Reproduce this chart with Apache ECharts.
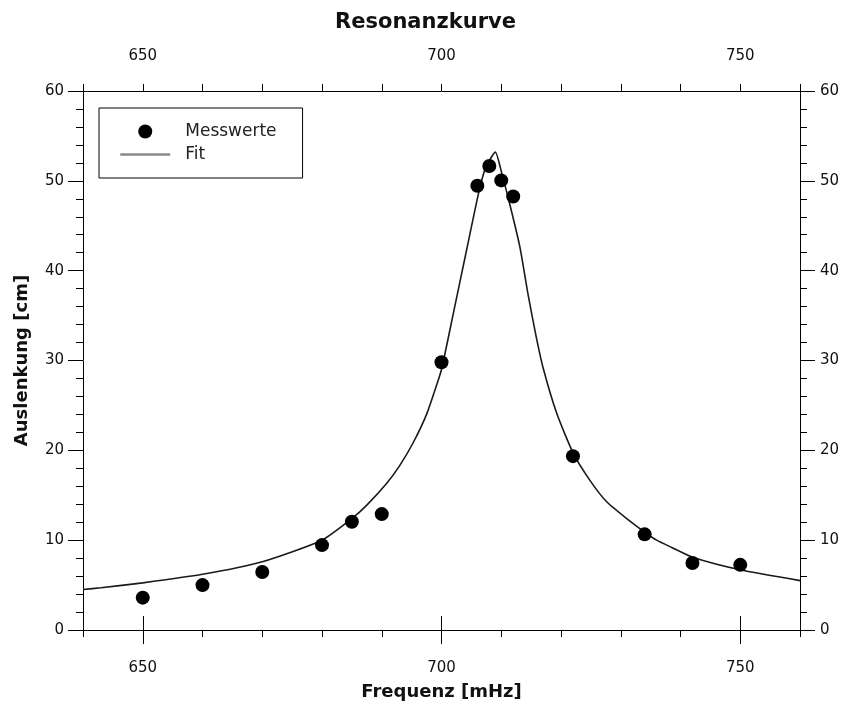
<!DOCTYPE html>
<html>
<head>
<meta charset="utf-8">
<script src="https://cdn.jsdelivr.net/npm/echarts@6/dist/echarts.min.js"></script>
<style>
html,body{margin:0;padding:0;background:#fff;}
#chart{width:851px;height:706px;}
</style>
</head>
<body>
<div id="chart"></div>
<script>
// Measured points
var measFreq = [650, 660, 670, 680, 685, 690, 700, 706, 708, 710, 712, 722, 734, 742, 750];
var measAmp  = [3.6, 5.0, 6.45, 9.45, 12.05, 12.9, 29.8, 49.45, 51.65, 50.05, 48.25, 19.35, 10.65, 7.45, 7.25];

// Fit curve
var fitFreq = [640, 643, 650, 660, 670, 680, 685, 687.5, 690.8, 693, 695.3, 697.5, 699.2, 700, 702, 704.2, 706.2, 707.3, 709, 710.1, 711.5, 713.1, 714.5, 715.8, 717, 719.3, 722.1, 724.9, 727.6, 731, 734.2, 736, 738.8, 742, 750, 760];
var fitAmp  = [4.5, 4.7, 5.25, 6.2, 7.6, 10.0, 12.4, 13.9, 16.3, 18.3, 20.9, 24.0, 27.3, 29.0, 35.3, 42.3, 48.6, 51.3, 53.2, 50.8, 47.2, 42.7, 37.3, 32.8, 29.2, 24.1, 19.6, 16.6, 14.3, 12.4, 10.8, 10.0, 9.1, 8.1, 6.7, 5.5];

// Tick labels
var xMajor = [650, 700, 750];
var yMajor = [0, 10, 20, 30, 40, 50, 60];

var FONT = 'DejaVu Sans';
var chart = echarts.init(document.getElementById('chart'), null, {renderer: 'canvas'});

function xAxisBase(pos, extra) {
  var a = {
    type: 'value', position: pos, min: 640, max: 760, interval: 10,
    axisLine: {show: true, onZero: false, lineStyle: {color: '#000', width: 1}},
    splitLine: {show: false},
    axisTick: {show: true, inside: false, length: 7, lineStyle: {color: '#000', width: 1}},
    axisLabel: {show: false}
  };
  return Object.assign(a, extra || {});
}
function yAxisBase(pos, extra) {
  var a = {
    type: 'value', position: pos, min: 0, max: 60, interval: 2,
    axisLine: {show: true, onZero: false, lineStyle: {color: '#000', width: 1}},
    splitLine: {show: false},
    axisTick: {show: true, inside: false, length: 7, lineStyle: {color: '#000', width: 1}},
    axisLabel: {show: false}
  };
  return Object.assign(a, extra || {});
}

var labelStyle = {fontFamily: FONT, fontSize: 15, color: '#111'};
var nameStyle = {fontFamily: FONT, fontSize: 18, fontWeight: 'bold', color: '#111'};

var option = {
  animation: false,
  backgroundColor: '#fff',
  title: {
    text: 'Resonanzkurve', left: 'center', top: 7,
    textStyle: {fontFamily: FONT, fontSize: 21, fontWeight: 'bold', color: '#111'}
  },
  legend: {
    orient: 'vertical', left: 99, top: 108,
    itemWidth: 50, itemHeight: 14, itemGap: 6,
    padding: [15, 26, 15, 20],
    borderColor: '#000', borderWidth: 1, backgroundColor: '#fff',
    textStyle: {fontFamily: FONT, fontSize: 17, color: '#222', padding: [0, 0, 0, 10]},
    lineStyle: {color: '#8a8a8a', width: 2.5},
    data: [
      {name: 'Messwerte', icon: 'circle', itemStyle: {color: '#000', opacity: 1}},
      {name: 'Fit', itemStyle: {color: 'rgba(0,0,0,0)', borderWidth: 0, opacity: 0}, lineStyle: {color: '#8a8a8a', width: 2.5, opacity: 1}}
    ]
  },
  grid: {left: 83, right: 51, top: 91, bottom: 76, containLabel: false},
  xAxis: [
    xAxisBase('bottom', {
      name: 'Frequenz [mHz]', nameLocation: 'middle', nameGap: 53,
      nameTextStyle: nameStyle,
      axisLabel: Object.assign({show: true, margin: 31,
        formatter: function (v) { return xMajor.indexOf(v) >= 0 ? String(v) : ''; }}, labelStyle)
    }),
    xAxisBase('bottom', {axisLine: {show: false}, axisTick: {show: true, length: 14, customValues: xMajor, lineStyle: {color: '#000'}}}),
    xAxisBase('top', {
      axisLabel: Object.assign({show: true, margin: 27,
        formatter: function (v) { return xMajor.indexOf(v) >= 0 ? String(v) : ''; }}, labelStyle)
    }),
    xAxisBase('top', {axisLine: {show: false}, axisTick: {show: true, length: 14, customValues: xMajor, lineStyle: {color: '#000'}}})
  ],
  yAxis: [
    yAxisBase('left', {
      name: 'Auslenkung [cm]', nameLocation: 'middle', nameGap: 52,
      nameTextStyle: nameStyle,
      axisLabel: Object.assign({show: true, margin: 19,
        formatter: function (v) { return yMajor.indexOf(v) >= 0 ? String(v) : ''; }}, labelStyle)
    }),
    yAxisBase('left', {axisLine: {show: false}, axisTick: {show: true, length: 15, customValues: yMajor, lineStyle: {color: '#000'}}}),
    yAxisBase('right', {
      axisLabel: Object.assign({show: true, margin: 20,
        formatter: function (v) { return yMajor.indexOf(v) >= 0 ? String(v) : ''; }}, labelStyle)
    }),
    yAxisBase('right', {axisLine: {show: false}, axisTick: {show: true, length: 15, customValues: yMajor, lineStyle: {color: '#000'}}})
  ],
  series: [
    {
      name: 'Messwerte', type: 'scatter', xAxisIndex: 0, yAxisIndex: 0,
      symbol: 'circle', symbolSize: 14, z: 5,
      itemStyle: {color: '#000', opacity: 1},
      data: measFreq.map(function (f, i) { return [f, measAmp[i]]; })
    },
    {
      name: 'Fit', type: 'line', xAxisIndex: 0, yAxisIndex: 0,
      symbol: 'none', showSymbol: false, smooth: 0.2, z: 3,
      lineStyle: {color: '#1a1a1a', width: 1.6},
      itemStyle: {color: '#808080'},
      data: fitFreq.map(function (f, i) { return [f, fitAmp[i]]; })
    }
  ]
};
chart.setOption(option);
</script>
</body>
</html>
